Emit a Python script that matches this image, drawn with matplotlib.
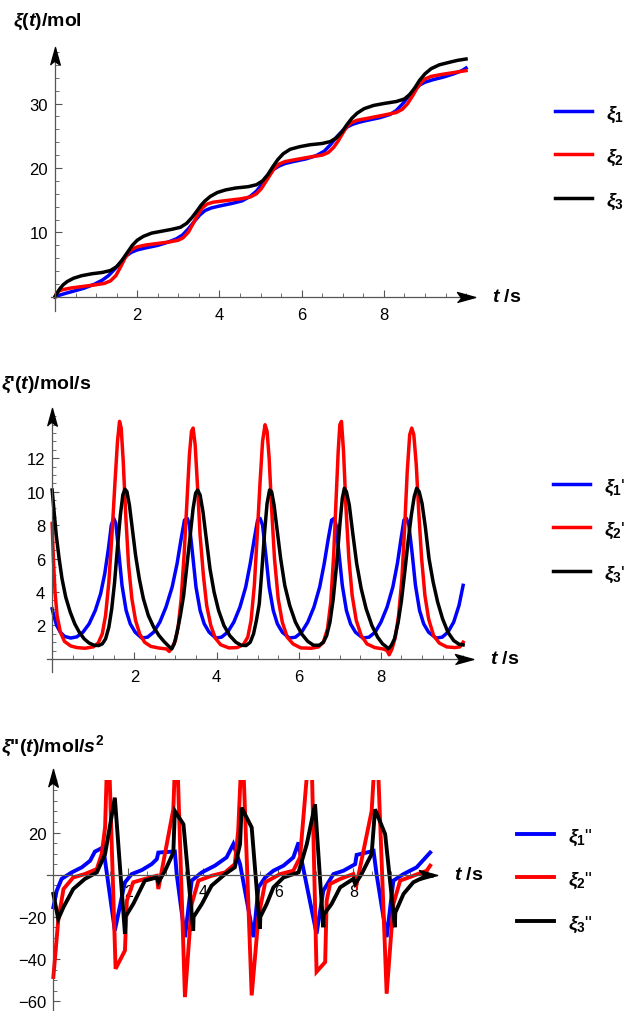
import numpy as np
import matplotlib
matplotlib.use("Agg")
import matplotlib.pyplot as plt
import matplotlib.transforms as mtransforms
from matplotlib.patches import Rectangle

plt.rcParams['font.family'] = ['Liberation Sans', 'DejaVu Sans']
plt.rcParams['mathtext.fontset'] = 'custom'
plt.rcParams['mathtext.rm'] = 'Liberation Sans:bold'
plt.rcParams['mathtext.it'] = 'Liberation Sans:italic:bold'
plt.rcParams['mathtext.bf'] = 'Liberation Sans:bold'

# ---- panel 1: xi(t) ----
p1_t_blue = [0, 0.1, 0.25, 0.45, 0.7, 0.95, 1.15, 1.3, 1.45, 1.6, 1.72, 1.85, 2.0, 2.2, 2.5, 2.75, 2.95,
             3.1, 3.25, 3.4, 3.52, 3.65, 3.8, 4.0, 4.3, 4.55, 4.75, 4.9, 5.05, 5.2, 5.32, 5.45, 5.6, 5.8,
             6.1, 6.35, 6.55, 6.7, 6.85, 7.0, 7.12, 7.25, 7.4, 7.6, 7.9, 8.15, 8.3, 8.45, 8.6, 8.75, 8.88,
             9.0, 9.2, 9.45, 9.7, 9.9, 10.0]
p1_blue = [0, 0.25, 0.55, 0.9, 1.35, 1.95, 2.6, 3.3, 4.3, 5.4, 6.3, 6.9, 7.3, 7.6, 8.0, 8.5, 9.0,
           9.6, 10.6, 11.8, 12.7, 13.4, 13.8, 14.1, 14.5, 14.9, 15.6, 16.4, 17.6, 18.9, 19.8, 20.3, 20.7, 21.0,
           21.4, 21.9, 22.6, 23.6, 24.8, 25.8, 26.4, 26.8, 27.1, 27.4, 27.8, 28.3, 28.9, 29.9, 31.1, 32.2, 32.9,
           33.3, 33.7, 34.1, 34.6, 35.1, 35.5]
p1_t_red = [0, 0.04, 0.1, 0.2, 0.4, 0.7, 1.0, 1.2, 1.35, 1.48, 1.6, 1.7, 1.8, 1.9, 2.02, 2.2, 2.5, 2.8,
            3.0, 3.12, 3.25, 3.37, 3.48, 3.58, 3.7, 3.85, 4.1, 4.5, 4.75, 4.9, 5.02, 5.13, 5.23, 5.33, 5.45,
            5.6, 5.85, 6.2, 6.5, 6.65, 6.78, 6.9, 7.0, 7.1, 7.2, 7.35, 7.6, 8.0, 8.3, 8.45, 8.58, 8.7, 8.8,
            8.9, 9.0, 9.15, 9.4, 9.7, 10.0]
p1_red = [0, 0.6, 0.95, 1.15, 1.4, 1.65, 1.9, 2.1, 2.5, 3.3, 4.7, 6.0, 7.0, 7.5, 7.8, 8.05, 8.3, 8.55,
          8.8, 9.2, 10.1, 11.5, 12.8, 13.8, 14.4, 14.7, 14.9, 15.2, 15.5, 16.0, 16.8, 17.9, 18.9, 19.9, 20.6,
          21.0, 21.3, 21.7, 22.0, 22.4, 23.2, 24.3, 25.4, 26.4, 27.0, 27.4, 27.7, 28.2, 28.6, 29.1, 30.0, 31.2, 32.3,
          33.2, 33.8, 34.2, 34.5, 34.8, 35.1]
p1_t_black = [0, 0.05, 0.12, 0.2, 0.3, 0.45, 0.65, 0.9, 1.15, 1.35, 1.5, 1.62, 1.75, 1.88, 2.0, 2.15, 2.35,
              2.6, 2.85, 3.05, 3.2, 3.33, 3.45, 3.55, 3.65, 3.78, 3.95, 4.15, 4.4, 4.7, 4.9, 5.05, 5.18, 5.3,
              5.42, 5.55, 5.72, 5.95, 6.2, 6.5, 6.7, 6.85, 6.98, 7.1, 7.22, 7.35, 7.52, 7.75, 8.0, 8.3, 8.5,
              8.63, 8.75, 8.87, 9.0, 9.15, 9.35, 9.6, 9.8, 10.0]
p1_black = [0, 0.6, 1.3, 1.9, 2.4, 2.9, 3.3, 3.6, 3.8, 4.1, 4.7, 5.6, 6.8, 8.0, 8.8, 9.4, 9.9,
            10.2, 10.5, 10.8, 11.4, 12.3, 13.3, 14.2, 14.9, 15.6, 16.2, 16.6, 16.9, 17.1, 17.4, 18.0, 19.0, 20.2,
            21.3, 22.2, 22.9, 23.3, 23.6, 23.8, 24.1, 24.7, 25.6, 26.7, 27.7, 28.5, 29.2, 29.7, 30.0, 30.3, 30.7,
            31.4, 32.4, 33.6, 34.6, 35.4, 36.0, 36.4, 36.7, 36.9]

# ---- panel 2: xi'(t) ----
p2_blue = [(0, 3.0), (0.05, 2.5), (0.11, 2.0), (0.2, 1.6), (0.3, 1.35), (0.45, 1.25), (0.6, 1.32), (0.75, 1.6),
           (0.9, 2.1), (1.05, 2.9), (1.18, 3.9), (1.28, 5.1), (1.37, 6.6), (1.44, 8.0), (1.5, 8.4), (1.55, 8.1),
           (1.62, 6.4), (1.7, 4.4), (1.8, 2.9), (1.9, 2.1), (2.02, 1.6), (2.18, 1.25), (2.32, 1.3), (2.47, 1.6),
           (2.62, 2.2), (2.77, 3.1), (2.92, 4.3), (3.04, 5.7), (3.14, 7.2), (3.22, 8.3), (3.29, 8.4), (3.34, 8.0),
           (3.42, 6.2), (3.5, 4.3), (3.6, 2.9), (3.7, 2.1), (3.82, 1.6), (3.98, 1.25), (4.12, 1.3), (4.27, 1.6),
           (4.42, 2.2), (4.57, 3.1), (4.71, 4.3), (4.82, 5.7), (4.92, 7.2), (5.0, 8.3), (5.06, 8.4), (5.12, 8.0),
           (5.2, 6.2), (5.28, 4.3), (5.38, 2.9), (5.48, 2.1), (5.6, 1.6), (5.77, 1.25), (5.92, 1.3), (6.07, 1.6),
           (6.22, 2.2), (6.37, 3.1), (6.51, 4.3), (6.62, 5.7), (6.72, 7.2), (6.8, 8.3), (6.86, 8.4), (6.91, 8.0),
           (6.98, 6.3), (7.06, 4.4), (7.16, 2.9), (7.26, 2.1), (7.38, 1.6), (7.56, 1.25), (7.71, 1.3), (7.86, 1.6),
           (8.0, 2.2), (8.15, 3.1), (8.29, 4.3), (8.4, 5.7), (8.49, 7.2), (8.56, 8.3), (8.62, 8.4), (8.68, 8.0),
           (8.76, 6.3), (8.84, 4.4), (8.94, 2.9), (9.04, 2.1), (9.16, 1.6), (9.34, 1.25), (9.49, 1.3), (9.63, 1.6),
           (9.77, 2.2), (9.9, 3.2), (10.0, 4.4)]
p2_red = [(0, 8.1), (0.03, 6.0), (0.07, 4.0), (0.12, 2.6), (0.2, 1.6), (0.3, 1.05), (0.45, 0.78), (0.6, 0.68),
          (0.8, 0.64), (1.0, 0.72), (1.12, 0.95), (1.22, 1.5), (1.3, 2.6), (1.38, 4.6), (1.46, 7.6), (1.53, 10.6),
          (1.59, 13.0), (1.64, 14.2), (1.68, 13.8), (1.73, 11.8), (1.79, 8.6), (1.86, 5.6), (1.94, 3.6), (2.03, 2.3),
          (2.13, 1.5), (2.25, 1.0), (2.4, 0.75), (2.6, 0.65), (2.78, 0.6), (2.85, 0.45), (2.92, 0.7), (3.0, 1.1),
          (3.07, 2.0), (3.14, 3.6), (3.21, 6.2), (3.28, 9.4), (3.34, 12.2), (3.39, 13.6), (3.43, 13.8), (3.48, 12.8),
          (3.54, 10.2), (3.6, 7.4), (3.68, 5.0), (3.76, 3.2), (3.86, 2.0), (3.97, 1.25), (4.1, 0.85), (4.3, 0.66),
          (4.5, 0.68), (4.65, 0.85), (4.76, 1.3), (4.84, 2.3), (4.92, 4.4), (4.99, 7.4), (5.06, 10.6), (5.12, 13.0),
          (5.18, 14.0), (5.23, 13.6), (5.28, 12.0), (5.34, 9.0), (5.41, 6.0), (5.5, 3.6), (5.6, 2.2), (5.72, 1.3),
          (5.86, 0.9), (6.05, 0.66), (6.3, 0.64), (6.48, 0.72), (6.6, 1.0), (6.7, 1.8), (6.78, 3.4), (6.85, 6.2),
          (6.91, 9.6), (6.96, 12.4), (7.0, 14.0), (7.04, 14.2), (7.09, 12.4), (7.15, 9.0), (7.22, 6.0), (7.3, 3.8),
          (7.4, 2.3), (7.52, 1.4), (7.66, 0.9), (7.85, 0.68), (8.05, 0.6), (8.15, 0.5), (8.2, 0.25), (8.27, 0.6),
          (8.35, 1.3), (8.43, 2.6), (8.51, 4.8), (8.58, 8.0), (8.64, 11.2), (8.7, 13.4), (8.75, 13.8), (8.8, 13.4),
          (8.86, 11.6), (8.92, 8.8), (8.99, 6.0), (9.07, 3.8), (9.16, 2.4), (9.28, 1.4), (9.42, 0.95), (9.6, 0.72),
          (9.8, 0.68), (9.92, 0.72), (10.0, 1.0)]
p2_black = [(0, 10.1), (0.04, 9.0), (0.1, 7.4), (0.17, 6.0), (0.24, 4.8), (0.33, 3.7), (0.44, 2.8), (0.55, 2.1),
            (0.66, 1.6), (0.78, 1.2), (0.9, 0.95), (1.02, 0.82), (1.13, 0.8), (1.22, 0.9), (1.3, 1.2), (1.38, 1.9),
            (1.45, 3.0), (1.52, 4.6), (1.59, 6.7), (1.66, 8.6), (1.72, 9.8), (1.77, 10.15), (1.82, 10.0), (1.88, 9.2),
            (1.95, 7.8), (2.03, 6.2), (2.12, 4.8), (2.22, 3.6), (2.34, 2.6), (2.47, 1.9), (2.6, 1.4), (2.72, 1.05),
            (2.8, 0.85), (2.86, 0.7), (2.91, 0.6), (2.97, 0.9), (3.04, 1.6), (3.12, 2.6), (3.2, 3.8), (3.28, 5.6),
            (3.36, 7.4), (3.43, 9.0), (3.49, 9.9), (3.54, 10.1), (3.6, 9.8), (3.67, 8.8), (3.75, 7.2), (3.84, 5.4),
            (3.94, 4.0), (4.05, 2.9), (4.18, 2.0), (4.32, 1.4), (4.47, 1.0), (4.6, 0.82), (4.72, 0.8), (4.82, 1.0),
            (4.9, 1.5), (4.97, 2.3), (5.04, 3.3), (5.1, 5.2), (5.17, 7.6), (5.23, 9.3), (5.29, 10.1), (5.34, 10.0),
            (5.4, 9.2), (5.47, 7.8), (5.56, 6.0), (5.66, 4.4), (5.78, 3.2), (5.92, 2.2), (6.07, 1.5), (6.22, 1.05),
            (6.36, 0.82), (6.5, 0.82), (6.6, 1.0), (6.68, 1.4), (6.76, 2.2), (6.84, 3.6), (6.92, 5.6), (7.0, 8.0),
            (7.06, 9.6), (7.11, 10.2), (7.16, 10.0), (7.23, 9.2), (7.31, 7.6), (7.41, 5.7), (7.52, 4.2), (7.64, 3.0),
            (7.78, 2.0), (7.92, 1.3), (8.04, 0.9), (8.12, 0.75), (8.18, 0.6), (8.25, 0.8), (8.33, 1.2), (8.42, 2.2),
            (8.5, 3.5), (8.58, 5.2), (8.66, 7.0), (8.74, 8.6), (8.81, 9.7), (8.87, 10.2), (8.93, 10.0), (9.0, 9.3),
            (9.08, 7.9), (9.17, 6.0), (9.27, 4.6), (9.38, 3.4), (9.5, 2.4), (9.63, 1.6), (9.77, 1.1), (9.9, 0.88),
            (10.0, 0.84)]

# ---- panel 3: xi''(t) ----
p3_blue = [(0, -15.4), (0.09, -7.6), (0.22, -2.0), (0.49, 1.1), (0.76, 3.5), (0.98, 6.6), (1.11, 11.0),
           (1.16, 11.4), (1.33, 13.0), (1.64, -26.5), (1.87, -6.8), (1.91, -3.6), (2.09, 0.3), (2.36, 2.2),
           (2.62, 5.0), (2.76, 7.4), (2.8, 10.5), (3.24, 11.0), (3.29, 0.3), (3.51, -29.6), (3.69, -2.8),
           (3.96, 1.1), (4.31, 4.3), (4.62, 8.2), (4.8, 14.5), (4.89, 9.8), (4.98, 5.0), (5.34, -29.6),
           (5.47, -6.0), (5.65, -1.3), (5.87, 1.9), (6.14, 4.3), (6.4, 8.2), (6.54, 15.3), (6.58, 10.5),
           (7.02, -28.0), (7.2, -7.6), (7.47, 0.3), (7.74, 1.9), (8.05, 5.0), (8.09, 9.4), (8.54, 11.3),
           (8.62, 0.3), (8.89, -29.6), (9.07, -2.8), (9.34, 0.3), (9.69, 3.5), (10.05, 10.5)]
p3_red = [(0, -48.5), (0.13, -21.7), (0.27, -6.8), (0.53, -1.3), (0.84, 0.3), (1.16, 2.7), (1.29, 9.8),
          (1.38, 22.4), (1.46, 70.0), (1.66, -44.6), (1.91, -35.9), (1.96, -12.3), (2.13, -3.6), (2.44, -2.0),
          (2.76, -0.5), (2.8, -6.8), (3.2, 31.0), (3.28, 70.0), (3.51, -58.0), (3.69, -13.9), (3.87, -2.8),
          (4.22, -0.5), (4.58, 1.1), (4.84, 5.0), (4.93, 20.8), (5.04, 65.0), (5.29, -57.2), (5.47, -20.2),
          (5.65, -3.6), (6.05, 0.3), (6.4, 1.9), (6.58, 8.2), (6.87, 70.0), (7.02, -46.0), (7.25, -41.4),
          (7.29, -12.3), (7.38, -4.4), (7.65, -2.0), (8.0, 0.3), (8.09, -4.4), (8.49, 30.2), (8.62, 70.0),
          (8.89, -56.4), (9.07, -13.9), (9.25, -2.8), (9.6, -0.5), (9.96, 1.9), (10.05, 4.3)]
p3_black = [(0, -9.1), (0.13, -21.0), (0.27, -15.4), (0.53, -6.8), (0.84, -2.0), (1.16, 1.1), (1.38, 9.8),
            (1.64, 36.5), (1.91, -28.0), (1.92, -20.0), (2.13, -13.9), (2.44, -2.8), (2.76, -1.3), (2.8, -3.6),
            (2.98, 1.9), (3.2, 10.5), (3.24, 30.2), (3.47, 23.9), (3.73, -26.5), (3.74, -20.0), (3.96, -13.9),
            (4.22, -5.2), (4.58, 0.3), (4.84, 3.5), (4.98, 14.5), (5.02, 31.8), (5.29, 22.4), (5.51, -25.7),
            (5.52, -20.0), (5.69, -13.9), (5.87, -6.0), (6.14, -1.3), (6.54, 1.1), (6.76, 14.5), (6.98, 33.4),
            (7.2, -24.9), (7.21, -19.0), (7.42, -13.9), (7.65, -6.0), (8.0, -2.0), (8.05, -4.4), (8.22, 0.3),
            (8.49, 9.8), (8.58, 31.0), (8.85, 19.2), (9.11, -24.9), (9.12, -18.0), (9.34, -9.1), (9.6, -3.6),
            (9.96, -0.5), (10.09, -0.5)]

colors = ['#0000ff', '#ff0000', '#000000']
AX_COL = '#555555'

W, H = 635, 1012
fig = plt.figure(figsize=(W / 100, H / 100), dpi=100)


def make_axes(l, r, t, b, xlim, ylim):
    ax = fig.add_axes([l / W, 1 - b / H, (r - l) / W, (b - t) / H])
    ax.set_xlim(*xlim)
    ax.set_ylim(*ylim)
    ax.patch.set_visible(False)
    for s in ('top', 'right'):
        ax.spines[s].set_visible(False)
    for s in ('left', 'bottom'):
        ax.spines[s].set_position(('data', 0))
        ax.spines[s].set_color(AX_COL)
        ax.spines[s].set_linewidth(0.9)
    ax.tick_params(which='major', direction='in', length=5, width=0.8, color=AX_COL, labelsize=12)
    ax.tick_params(which='minor', direction='in', length=2.6, width=0.6, color=AX_COL)
    ax.tick_params(axis='x', pad=7.5)
    ax.tick_params(axis='y', pad=5)
    # arrow heads at the axis ends
    tx = mtransforms.offset_copy(ax.transData, fig=fig, x=-9, y=0, units='dots')
    ty = mtransforms.offset_copy(ax.transData, fig=fig, x=0, y=-8.5, units='dots')
    ax.plot(xlim[1], 0, marker=[(-1, -0.55), (1, 0), (-1, 0.55), (-0.6, 0)], ms=13, color='k',
            transform=tx, clip_on=False, zorder=5)
    ax.plot(0, ylim[1], marker=[(-0.55, -1), (0, 1), (0.55, -1), (0, -0.6)], ms=12.5, color='k',
            transform=ty, clip_on=False, zorder=5)
    return ax


def legend(ax, lines, labels, x, y):
    ax.legend(lines, labels, loc='center left', bbox_to_anchor=(x / W, 1 - y / H),
              bbox_transform=fig.transFigure, frameon=False, fontsize=14, handlelength=1.9,
              handletextpad=0.7, labelspacing=1.2, borderpad=0, borderaxespad=0)


def fig_text(x, y, s, **kw):
    fig.text(x / W, 1 - y / H, s, fontsize=14, fontweight='bold', va='center', ha='left', **kw)


# ---- panel 1 ----
ax1 = make_axes(50.9, 475.1, 48.4, 311.5, (-0.1, 10.22), (-2.1, 38.7))
l1 = []
for tt, yy, c in zip([p1_t_blue, p1_t_red, p1_t_black], [p1_blue, p1_red, p1_black], colors):
    l1 += ax1.plot(tt, yy, color=c, lw=2.5, solid_joinstyle='round')
ax1.set_xticks([2, 4, 6, 8])
ax1.set_xticks(np.arange(0.5, 10.01, 0.5), minor=True)
ax1.set_yticks([10, 20, 30])
ax1.set_yticks(np.arange(2, 38.1, 2), minor=True)
legend(ax1, l1, [r'$\mathit{ξ}_{\mathit{1}}$', r'$\mathit{ξ}_{\mathit{2}}$', r'$\mathit{ξ}_{\mathit{3}}$'],
       555, 158)
fig_text(13, 22, r'$\mathit{ξ}(\mathit{t})$/mol')
fig_text(492, 298, r'$\mathit{t}$ /s')

# ---- panel 2 ----
ax2 = make_axes(46.8, 473.4, 409.0, 672.5, (-0.13, 10.25), (-0.75, 15.0))
l2 = []
for pts, c in zip([p2_blue, p2_red, p2_black], colors):
    tt, yy = zip(*pts)
    l2 += ax2.plot(tt, yy, color=c, lw=2.5, solid_joinstyle='round')
ax2.set_xticks([2, 4, 6, 8])
ax2.set_xticks(np.arange(0.5, 10.01, 0.5), minor=True)
ax2.set_yticks([2, 4, 6, 8, 10, 12])
ax2.set_yticks(np.arange(0.5, 14.6, 0.5), minor=True)
legend(ax2, l2, [r"$\mathit{ξ}_{\mathit{1}}$'", r"$\mathit{ξ}_{\mathit{2}}$'", r"$\mathit{ξ}_{\mathit{3}}$'"],
       553, 531)
fig_text(1, 385, r"$\mathit{ξ}$'$(\mathit{t})$/mol/s")
fig_text(490, 660, r'$\mathit{t}$ /s')

# ---- panel 3 ----
ax3 = make_axes(46.6, 436.9, 770.2, 1011.8, (-0.18, 10.23), (-64.5, 50))
clip = Rectangle((-1, -70), 12, 115, transform=ax3.transData)
l3 = []
for pts, c in zip([p3_blue, p3_red, p3_black], colors):
    tt, yy = zip(*pts)
    ln, = ax3.plot(tt, yy, color=c, lw=2.8, solid_joinstyle='miter')
    ln.set_clip_path(clip)
    l3.append(ln)
ax3.set_xticks([2, 4, 6, 8])
ax3.set_xticks(np.arange(0.5, 10.01, 0.5), minor=True)
ax3.set_yticks([-60, -40, -20, 20])
ax3.set_yticks(np.arange(-60, 45.1, 5), minor=True)
ax3.set_yticklabels(['\u221260', '\u221240', '\u221220', '20'])
ax3.tick_params(axis='x', labelsize=11.5, pad=6.5)
legend(ax3, l3, [r'$\mathit{ξ}_{\mathit{1}}$"', r'$\mathit{ξ}_{\mathit{2}}$"', r'$\mathit{ξ}_{\mathit{3}}$"'],
       517, 881)
fig_text(1, 746, r'$\mathit{ξ}$"$(\mathit{t})$/mol/$\mathit{s}^{2}$')
fig_text(454, 876, r'$\mathit{t}$ /s')

fig.savefig('out.png', dpi=100)
